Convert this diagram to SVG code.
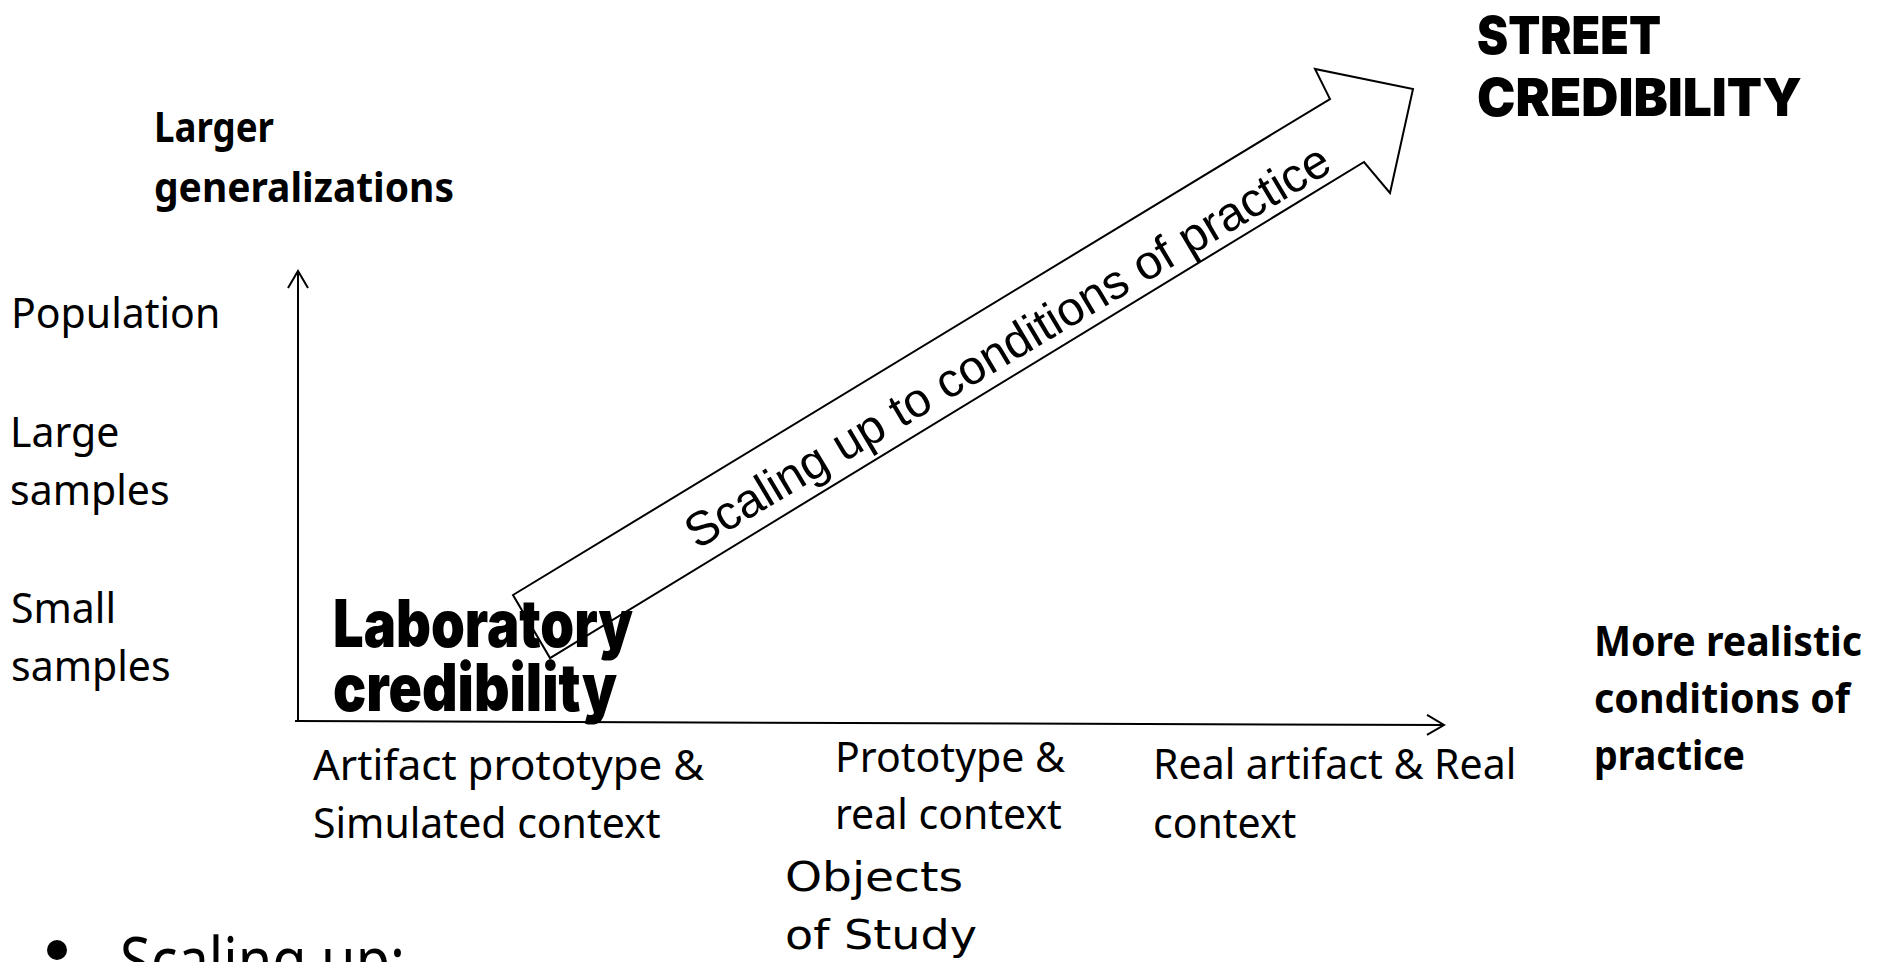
<svg xmlns="http://www.w3.org/2000/svg" width="1887" height="962" viewBox="0 0 1887 962">
<defs>
<style>
.t{font-family:"Noto Sans","Open Sans",sans-serif;font-size:41px;fill:#000}
.b{font-weight:bold}
.big{font-size:64px}
.heavy{font-family:Inter,"DejaVu Sans",sans-serif;font-weight:900;fill:#000}
.comic{font-family:"DejaVu Sans",sans-serif;font-size:41px;fill:#000}
.ln{stroke:#000;stroke-width:2;fill:none}
</style>
<marker id="open" markerWidth="22" markerHeight="24" refX="18" refY="11" orient="auto" markerUnits="userSpaceOnUse">
<path d="M1,1 L18,11 L1,21" fill="none" stroke="#000" stroke-width="2"/>
</marker>
</defs>
<rect width="1887" height="962" fill="#fff"/>
<g id="connectors">
<line class="ln" x1="298" y1="721" x2="298" y2="271" marker-end="url(#open)"/>
<line class="ln" x1="295" y1="721" x2="1444" y2="725" marker-end="url(#open)"/>
</g>
<g id="scale-arrow">
<polygon class="ln" points="513,595 1330,99 1315,69 1413,89 1390,193 1364,162 550,658"/>
<text transform="translate(697,550) rotate(-30.8)" font-family="Liberation Sans, Arial, sans-serif" font-size="48">Scaling up to conditions of practice</text>
</g>
<g id="y-title"><text class="t b"><tspan x="154" y="142" textLength="120" lengthAdjust="spacingAndGlyphs">Larger</tspan><tspan x="154" y="202" textLength="300" lengthAdjust="spacingAndGlyphs">generalizations</tspan></text></g>
<g id="population"><text class="t" x="11" y="328">Population</text></g>
<g id="large-samples"><text class="t"><tspan x="10" y="447">Large</tspan><tspan x="10" y="505">samples</tspan></text></g>
<g id="small-samples"><text class="t"><tspan x="11" y="623">Small</tspan><tspan x="11" y="681">samples</tspan></text></g>
<g id="lab"><text class="heavy" font-size="66"><tspan x="333" y="647" textLength="300" lengthAdjust="spacingAndGlyphs">Laboratory</tspan><tspan x="333" y="711" textLength="284" lengthAdjust="spacingAndGlyphs">credibility</tspan></text></g>
<g id="street"><text class="heavy" font-size="52"><tspan x="1477" y="54" textLength="184" lengthAdjust="spacingAndGlyphs">STREET</tspan><tspan x="1477" y="116" textLength="325" lengthAdjust="spacingAndGlyphs">CREDIBILITY</tspan></text></g>
<g id="x1"><text class="t"><tspan x="313" y="780" textLength="391" lengthAdjust="spacingAndGlyphs">Artifact prototype &amp;</tspan><tspan x="313" y="838">Simulated context</tspan></text></g>
<g id="x2"><text class="t"><tspan x="835" y="772">Prototype &amp;</tspan><tspan x="835" y="829">real context</tspan></text></g>
<g id="x3"><text class="t"><tspan x="1153" y="779">Real artifact &amp; Real</tspan><tspan x="1153" y="838">context</tspan></text></g>
<g id="x-title"><text class="t b"><tspan x="1594" y="656" textLength="268" lengthAdjust="spacingAndGlyphs">More realistic</tspan><tspan x="1594" y="713" textLength="256" lengthAdjust="spacingAndGlyphs">conditions of</tspan><tspan x="1594" y="770" textLength="151" lengthAdjust="spacingAndGlyphs">practice</tspan></text></g>
<g id="objects"><text class="comic"><tspan x="785" y="891" textLength="178" lengthAdjust="spacingAndGlyphs">Objects</tspan><tspan x="785" y="949" textLength="192" lengthAdjust="spacingAndGlyphs">of Study</tspan></text></g>
<g id="bullet"><circle cx="57" cy="950" r="10" fill="#000"/><text class="t big" x="120" y="983" textLength="285" lengthAdjust="spacingAndGlyphs">Scaling up:</text></g>
</svg>
